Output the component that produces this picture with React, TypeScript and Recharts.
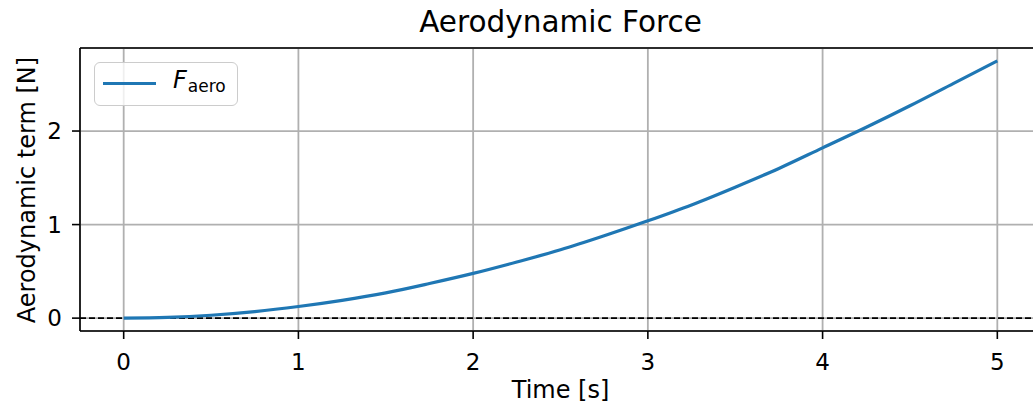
import React from "react";
import {
  ComposedChart,
  Line,
  XAxis,
  YAxis,
  CartesianGrid,
  ReferenceLine,
  Legend,
} from "recharts";

// Time samples [s] and the aerodynamic force term [N]
const timeS = [0, 0.25, 0.5, 0.75, 1, 1.25, 1.5, 1.75, 2, 2.25, 2.5, 2.75, 3, 3.25, 3.5, 3.75, 4, 4.25, 4.5, 4.75, 5];
const forceN = [0, 0.008, 0.031, 0.07, 0.124, 0.19, 0.27, 0.37, 0.478, 0.6, 0.73, 0.88, 1.04, 1.21, 1.4, 1.6, 1.82, 2.04, 2.27, 2.51, 2.75];

const xTicks = [0, 1, 2, 3, 4, 5];
const yTicks = [0, 1, 2];
const xDomain = [-0.25, 5.25];
const yDomain = [-0.1375, 2.8875];

const data = timeS.map((t, i) => ({ t, f: forceN[i] }));

const FONT = "'DejaVu Sans', sans-serif";
const BLUE = "#1f77b4";
const TICK_FONT = 23;
const LABEL_FONT = 24;

function LegendBox() {
  return (
    <div
      style={{
        width: 142,
        height: 42,
        border: "1.6px solid #cccccc",
        borderRadius: 6,
        background: "rgba(255,255,255,0.8)",
        position: "relative",
        fontFamily: FONT,
      }}
    >
      <div
        style={{
          position: "absolute",
          left: 8,
          top: 18.5,
          width: 53,
          height: 3.2,
          background: BLUE,
        }}
      />
      <div
        style={{
          position: "absolute",
          left: 78,
          top: 4,
          fontSize: 24,
          lineHeight: "27px",
          color: "#000",
          whiteSpace: "nowrap",
        }}
      >
        <span style={{ fontStyle: "italic" }}>F</span>
        <span style={{ fontSize: 17, position: "relative", top: 4, marginLeft: 1 }}>aero</span>
      </div>
    </div>
  );
}

export default function App() {
  return (
    <div
      style={{
        position: "absolute",
        left: 0,
        top: 0,
        width: 1033,
        height: 406,
        overflow: "hidden",
        background: "#fff",
        fontFamily: FONT,
      }}
    >
      <div
        style={{
          position: "absolute",
          left: 0,
          width: 1121,
          top: 5,
          textAlign: "center",
          fontSize: 29.5,
          color: "#000",
        }}
      >
        Aerodynamic Force
      </div>
      <div
        style={{
          position: "absolute",
          left: 27,
          top: 190,
          transform: "translate(-50%, -50%) rotate(-90deg)",
          fontSize: LABEL_FONT,
          whiteSpace: "nowrap",
          color: "#000",
        }}
      >
        Aerodynamic term [N]
      </div>
      <div
        style={{
          position: "absolute",
          left: 0,
          width: 1121,
          top: 376,
          textAlign: "center",
          fontSize: LABEL_FONT,
          color: "#000",
        }}
      >
        Time [s]
      </div>
      <ComposedChart
        width={1060}
        height={406}
        data={data}
        margin={{ top: 48, right: 19, bottom: 0, left: 0 }}
        style={{ position: "absolute", left: 0, top: 0 }}
      >
        <CartesianGrid stroke="#b0b0b0" strokeWidth={1.8} />
        <XAxis
          dataKey="t"
          type="number"
          domain={xDomain}
          ticks={xTicks}
          allowDataOverflow
          height={75}
          tickSize={8}
          tickMargin={15}
          stroke="#000"
          strokeWidth={1.6}
          tick={{ fill: "#000", fontSize: TICK_FONT, fontFamily: FONT }}
          tickLine={{ stroke: "#000", strokeWidth: 1.6 }}
        />
        <YAxis
          type="number"
          domain={yDomain}
          ticks={yTicks}
          allowDataOverflow
          width={80}
          tickSize={8}
          tickMargin={10}
          stroke="#000"
          strokeWidth={1.6}
          tick={{ fill: "#000", fontSize: TICK_FONT, fontFamily: FONT }}
          tickLine={{ stroke: "#000", strokeWidth: 1.6 }}
        />
        <ReferenceLine y={0} stroke="#000" strokeWidth={1.6} strokeDasharray="6 3" />
        <ReferenceLine y={yDomain[1]} stroke="#000" strokeWidth={1.6} />
        <ReferenceLine x={xDomain[1]} stroke="#000" strokeWidth={1.6} />
        <Line
          dataKey="f"
          type="monotone"
          stroke={BLUE}
          strokeWidth={3.2}
          dot={false}
          isAnimationActive={false}
          name="F_aero"
        />
        <Legend
          layout="horizontal"
          verticalAlign="middle"
          align="center"
          wrapperStyle={{ position: "absolute", left: 94, top: 62, width: 146, height: 46 }}
          content={() => <LegendBox />}
        />
      </ComposedChart>
    </div>
  );
}
